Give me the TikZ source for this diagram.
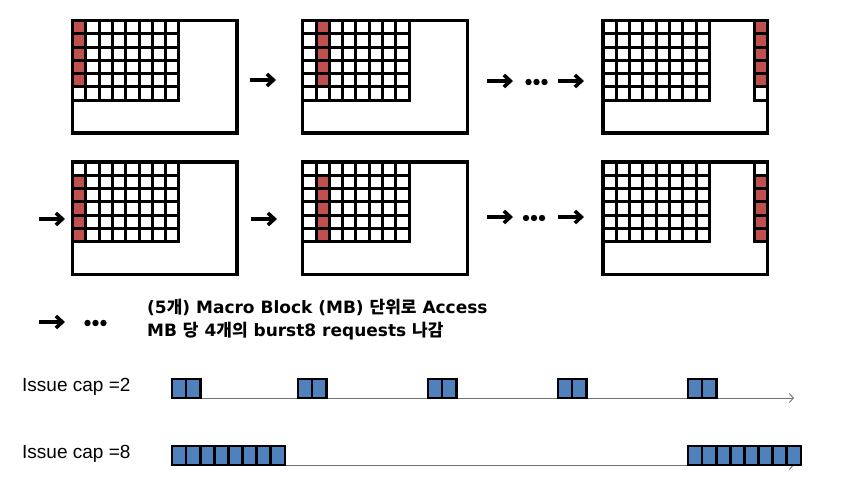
\documentclass[tikz,border=0pt]{standalone}
\usepackage{fontspec}
\setmainfont{DejaVu Sans}
\newfontfamily\capfont{Liberation Sans}
\newfontfamily\kr{Noto Sans CJK KR}
\usetikzlibrary{arrows.meta}
\definecolor{mbred}{HTML}{C0504D}
\definecolor{reqblue}{HTML}{4F81BD}

\tikzset{
  mbline/.style={line width=3pt, line cap=rect},
  mbframe/.style={draw, line width=3.2pt, inner sep=0pt, outer sep=0pt, anchor=north west,
    minimum width=164.5pt, minimum height=112.5pt},
  flow/.style={line width=3.6pt, -{Straight Barb[length=6.5pt,width=12pt]}},
  timeline/.style={draw=black!55, line width=0.9pt, -{Straight Barb[length=4pt,width=9pt]}},
  req/.style={draw=black, line width=2.6pt, fill=reqblue},
  caplabel/.style={anchor=west, inner sep=0pt, font=\capfont\fontsize{19}{21}\selectfont},
}

% #1,#2 top-left corner, #3 red column (9 = column at the right edge), #4 first red row, #5 name
\newcommand{\mbgrid}[5]{%
  \begin{scope}[shift={(#1,#2)}]
    \pgfmathtruncatemacro\lastrow{#4+4}
    \ifnum#3=9 \def\redx{151.2}\else\pgfmathsetmacro\redx{#3*13.3}\fi
    \foreach \r in {#4,...,\lastrow}
      \fill[mbred] (\redx,\r*13.25) rectangle ++(13.3,13.25);
    \foreach \i in {0,...,8}
      \draw[mbline] (\i*13.3,0) -- (\i*13.3,79.5);
    \foreach \j in {0,...,6}
      \draw[mbline] (0,\j*13.25) -- (106.4,\j*13.25);
    \ifnum#3=9
      \draw[mbline] (151.2,0) -- (151.2,79.5);
      \foreach \j in {1,...,6}
        \draw[mbline] (151.2,\j*13.25) -- (164.5,\j*13.25);
    \fi
    \node[mbframe] (#5) at (0,0) {};
  \end{scope}
}

% #1,#2 top-left corner, #3 number of requests
\newcommand{\reqblock}[3]{%
  \foreach \k in {1,...,#3}
    \draw[req] (#1+\k*14.1-14.1,#2) rectangle ++(14.1,19);
}

\newcommand{\mbdots}[2]{%
  \foreach \d in {0,1,2}
    \fill (#1+\d*8,#2) circle (3.2);
}

\begin{document}
\begin{tikzpicture}[x=1pt,y=-1pt]
\useasboundingbox (0,0) rectangle (843,482);

\mbgrid{72.5}{20.5}{0}{0}{f11}
\mbgrid{302.7}{20.5}{1}{0}{f12}
\mbgrid{603}{20.5}{9}{0}{f13}

\mbgrid{72.5}{162}{0}{1}{f21}
\mbgrid{302.7}{162}{1}{1}{f22}
\mbgrid{603}{162}{9}{1}{f23}

\coordinate (a1s) at (250,80);  \coordinate (a1e) at (276,80);
\coordinate (a2s) at (487,81);  \coordinate (a2e) at (513,81);
\coordinate (a3s) at (558,81);  \coordinate (a3e) at (584,81);
\coordinate (b0s) at (39,219);  \coordinate (b0e) at (65,219);
\coordinate (b1s) at (251,219); \coordinate (b1e) at (277,219);
\coordinate (b2s) at (487,217); \coordinate (b2e) at (513,217);
\coordinate (b3s) at (558,217); \coordinate (b3e) at (584,217);
\coordinate (c0s) at (39,322);  \coordinate (c0e) at (65,322);

\draw[flow] (a1s) -- (a1e);
\draw[flow] (a2s) -- (a2e);
\draw[flow] (a3s) -- (a3e);
\draw[flow] (b0s) -- (b0e);
\draw[flow] (b1s) -- (b1e);
\draw[flow] (b2s) -- (b2e);
\draw[flow] (b3s) -- (b3e);
\draw[flow] (c0s) -- (c0e);

\mbdots{528.5}{82}
\mbdots{526}{218}
\mbdots{87.5}{323}

\node[anchor=west, align=left, inner sep=0pt,
  font=\bfseries\fontsize{17}{23}\selectfont] (note) at (147,319.5)
  {(5{\kr 개}) Macro Block (MB) {\kr 단위로} Access\\
   MB {\kr 당} 4{\kr 개의} burst8 requests {\kr 나감}};

\node[caplabel] (cap2) at (22,387) {Issue cap =2};
\node[caplabel] (cap8) at (22,454) {Issue cap =8};

\coordinate (t2s) at (172,398); \coordinate (t2e) at (794,398);
\coordinate (t8s) at (172,465); \coordinate (t8e) at (794,465);
\draw[timeline] (t2s) -- (t2e);
\draw[timeline] (t8s) -- (t8e);

\reqblock{172}{379}{2}
\reqblock{298}{379}{2}
\reqblock{428}{379}{2}
\reqblock{558}{379}{2}
\reqblock{688}{379}{2}

\reqblock{172}{446}{8}
\reqblock{688}{446}{8}
\end{tikzpicture}
\end{document}
